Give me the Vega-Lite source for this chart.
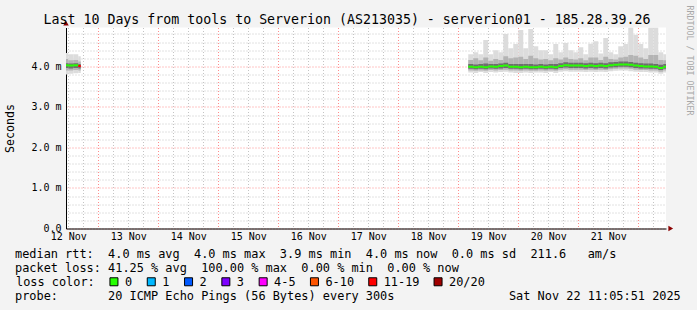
{
  "$schema": "https://vega.github.io/schema/vega-lite/v6.json",
  "autosize": "none",
  "width": 600,
  "height": 201,
  "padding": {"left": 66, "top": 27.5, "right": 31, "bottom": 81.5},
  "background": "#f3f3f3",
  "view": {"fill": "#ffffff", "stroke": null},
  "config": {"font": "DejaVu Sans Mono"},
  "datasets": {
    "smoke": [
      {"t": "2025-11-12T10:00Z", "t2": "2025-11-12T12:00Z", "mn": 3.80, "lo": 3.90, "q1": 3.96, "md": 4.03, "q3": 4.08, "hi": 4.18, "mx": 4.33, "loss": "0"},
      {"t": "2025-11-12T12:00Z", "t2": "2025-11-12T14:00Z", "mn": 3.82, "lo": 3.90, "q1": 3.95, "md": 4.02, "q3": 4.07, "hi": 4.15, "mx": 4.30, "loss": "0"},
      {"t": "2025-11-12T14:00Z", "t2": "2025-11-12T16:00Z", "mn": 3.83, "lo": 3.91, "q1": 3.96, "md": 4.03, "q3": 4.08, "hi": 4.16, "mx": 4.30, "loss": "0"},
      {"t": "2025-11-12T16:00Z", "t2": "2025-11-12T17:00Z", "mn": 3.84, "lo": 3.90, "q1": 3.95, "md": 4.01, "q3": 4.06, "hi": 4.12, "mx": 4.25, "loss": "11-19"},
      {"t": "2025-11-19T04:00Z", "t2": "2025-11-19T06:00Z", "mn": 3.85, "lo": 3.90, "q1": 3.94, "md": 3.99, "q3": 4.06, "hi": 4.16, "mx": 4.30, "loss": "0"},
      {"t": "2025-11-19T06:00Z", "t2": "2025-11-19T08:00Z", "mn": 3.84, "lo": 3.89, "q1": 3.93, "md": 3.98, "q3": 4.05, "hi": 4.20, "mx": 4.35, "loss": "0"},
      {"t": "2025-11-19T08:00Z", "t2": "2025-11-19T10:00Z", "mn": 3.86, "lo": 3.90, "q1": 3.94, "md": 3.99, "q3": 4.06, "hi": 4.15, "mx": 4.30, "loss": "0"},
      {"t": "2025-11-19T10:00Z", "t2": "2025-11-19T12:00Z", "mn": 3.84, "lo": 3.89, "q1": 3.93, "md": 3.98, "q3": 4.07, "hi": 4.22, "mx": 4.65, "loss": "0"},
      {"t": "2025-11-19T12:00Z", "t2": "2025-11-19T14:00Z", "mn": 3.86, "lo": 3.91, "q1": 3.95, "md": 4.00, "q3": 4.06, "hi": 4.14, "mx": 4.30, "loss": "0"},
      {"t": "2025-11-19T14:00Z", "t2": "2025-11-19T16:00Z", "mn": 3.85, "lo": 3.90, "q1": 3.94, "md": 3.99, "q3": 4.06, "hi": 4.18, "mx": 4.40, "loss": "0"},
      {"t": "2025-11-19T16:00Z", "t2": "2025-11-19T18:00Z", "mn": 3.86, "lo": 3.91, "q1": 3.95, "md": 4.01, "q3": 4.07, "hi": 4.16, "mx": 4.35, "loss": "0"},
      {"t": "2025-11-19T18:00Z", "t2": "2025-11-19T20:00Z", "mn": 3.87, "lo": 3.92, "q1": 3.96, "md": 4.02, "q3": 4.09, "hi": 4.25, "mx": 4.80, "loss": "0"},
      {"t": "2025-11-19T20:00Z", "t2": "2025-11-19T22:00Z", "mn": 3.85, "lo": 3.90, "q1": 3.94, "md": 3.99, "q3": 4.06, "hi": 4.20, "mx": 4.45, "loss": "0"},
      {"t": "2025-11-19T22:00Z", "t2": "2025-11-20T00:00Z", "mn": 3.84, "lo": 3.90, "q1": 3.94, "md": 3.99, "q3": 4.06, "hi": 4.22, "mx": 4.55, "loss": "0"},
      {"t": "2025-11-20T00:00Z", "t2": "2025-11-20T02:00Z", "mn": 3.84, "lo": 3.89, "q1": 3.93, "md": 3.98, "q3": 4.06, "hi": 4.24, "mx": 4.90, "loss": "0"},
      {"t": "2025-11-20T02:00Z", "t2": "2025-11-20T04:00Z", "mn": 3.85, "lo": 3.90, "q1": 3.94, "md": 3.99, "q3": 4.06, "hi": 4.18, "mx": 4.45, "loss": "0"},
      {"t": "2025-11-20T04:00Z", "t2": "2025-11-20T06:00Z", "mn": 3.84, "lo": 3.89, "q1": 3.93, "md": 3.98, "q3": 4.06, "hi": 4.26, "mx": 4.92, "loss": "0"},
      {"t": "2025-11-20T06:00Z", "t2": "2025-11-20T08:00Z", "mn": 3.85, "lo": 3.89, "q1": 3.93, "md": 3.98, "q3": 4.05, "hi": 4.20, "mx": 4.50, "loss": "0"},
      {"t": "2025-11-20T08:00Z", "t2": "2025-11-20T10:00Z", "mn": 3.85, "lo": 3.90, "q1": 3.94, "md": 3.99, "q3": 4.06, "hi": 4.17, "mx": 4.40, "loss": "0"},
      {"t": "2025-11-20T10:00Z", "t2": "2025-11-20T12:00Z", "mn": 3.84, "lo": 3.89, "q1": 3.93, "md": 3.98, "q3": 4.05, "hi": 4.18, "mx": 4.40, "loss": "0"},
      {"t": "2025-11-20T12:00Z", "t2": "2025-11-20T14:00Z", "mn": 3.86, "lo": 3.90, "q1": 3.94, "md": 3.99, "q3": 4.06, "hi": 4.15, "mx": 4.30, "loss": "0"},
      {"t": "2025-11-20T14:00Z", "t2": "2025-11-20T16:00Z", "mn": 3.84, "lo": 3.89, "q1": 3.93, "md": 3.98, "q3": 4.06, "hi": 4.20, "mx": 4.55, "loss": "0"},
      {"t": "2025-11-20T16:00Z", "t2": "2025-11-20T18:00Z", "mn": 3.87, "lo": 3.92, "q1": 3.96, "md": 4.01, "q3": 4.08, "hi": 4.17, "mx": 4.35, "loss": "0"},
      {"t": "2025-11-20T18:00Z", "t2": "2025-11-20T20:00Z", "mn": 3.88, "lo": 3.93, "q1": 3.97, "md": 4.03, "q3": 4.10, "hi": 4.22, "mx": 4.58, "loss": "0"},
      {"t": "2025-11-20T20:00Z", "t2": "2025-11-20T22:00Z", "mn": 3.87, "lo": 3.92, "q1": 3.96, "md": 4.02, "q3": 4.09, "hi": 4.18, "mx": 4.40, "loss": "0"},
      {"t": "2025-11-20T22:00Z", "t2": "2025-11-21T00:00Z", "mn": 3.87, "lo": 3.92, "q1": 3.96, "md": 4.02, "q3": 4.09, "hi": 4.17, "mx": 4.35, "loss": "0"},
      {"t": "2025-11-21T00:00Z", "t2": "2025-11-21T02:00Z", "mn": 3.87, "lo": 3.92, "q1": 3.96, "md": 4.02, "q3": 4.09, "hi": 4.20, "mx": 4.47, "loss": "0"},
      {"t": "2025-11-21T02:00Z", "t2": "2025-11-21T04:00Z", "mn": 3.86, "lo": 3.91, "q1": 3.95, "md": 4.01, "q3": 4.08, "hi": 4.15, "mx": 4.30, "loss": "0"},
      {"t": "2025-11-21T04:00Z", "t2": "2025-11-21T06:00Z", "mn": 3.87, "lo": 3.92, "q1": 3.96, "md": 4.02, "q3": 4.09, "hi": 4.22, "mx": 4.56, "loss": "0"},
      {"t": "2025-11-21T06:00Z", "t2": "2025-11-21T08:00Z", "mn": 3.86, "lo": 3.91, "q1": 3.95, "md": 4.01, "q3": 4.08, "hi": 4.22, "mx": 4.62, "loss": "0"},
      {"t": "2025-11-21T08:00Z", "t2": "2025-11-21T10:00Z", "mn": 3.87, "lo": 3.92, "q1": 3.96, "md": 4.02, "q3": 4.09, "hi": 4.16, "mx": 4.32, "loss": "0"},
      {"t": "2025-11-21T10:00Z", "t2": "2025-11-21T12:00Z", "mn": 3.86, "lo": 3.91, "q1": 3.95, "md": 4.01, "q3": 4.08, "hi": 4.24, "mx": 4.70, "loss": "0"},
      {"t": "2025-11-21T12:00Z", "t2": "2025-11-21T14:00Z", "mn": 3.88, "lo": 3.93, "q1": 3.97, "md": 4.03, "q3": 4.10, "hi": 4.18, "mx": 4.35, "loss": "0"},
      {"t": "2025-11-21T14:00Z", "t2": "2025-11-21T16:00Z", "mn": 3.89, "lo": 3.94, "q1": 3.98, "md": 4.04, "q3": 4.11, "hi": 4.17, "mx": 4.30, "loss": "0"},
      {"t": "2025-11-21T16:00Z", "t2": "2025-11-21T18:00Z", "mn": 3.90, "lo": 3.95, "q1": 3.99, "md": 4.05, "q3": 4.12, "hi": 4.22, "mx": 4.50, "loss": "0"},
      {"t": "2025-11-21T18:00Z", "t2": "2025-11-21T20:00Z", "mn": 3.90, "lo": 3.95, "q1": 3.99, "md": 4.05, "q3": 4.12, "hi": 4.24, "mx": 4.55, "loss": "0"},
      {"t": "2025-11-21T20:00Z", "t2": "2025-11-21T22:00Z", "mn": 3.88, "lo": 3.94, "q1": 3.98, "md": 4.04, "q3": 4.11, "hi": 4.28, "mx": 4.96, "loss": "0"},
      {"t": "2025-11-21T22:00Z", "t2": "2025-11-22T00:00Z", "mn": 3.87, "lo": 3.92, "q1": 3.96, "md": 4.02, "q3": 4.09, "hi": 4.26, "mx": 4.78, "loss": "0"},
      {"t": "2025-11-22T00:00Z", "t2": "2025-11-22T02:00Z", "mn": 3.86, "lo": 3.91, "q1": 3.95, "md": 4.01, "q3": 4.08, "hi": 4.22, "mx": 4.55, "loss": "0"},
      {"t": "2025-11-22T02:00Z", "t2": "2025-11-22T04:00Z", "mn": 3.86, "lo": 3.91, "q1": 3.95, "md": 4.00, "q3": 4.07, "hi": 4.18, "mx": 4.45, "loss": "0"},
      {"t": "2025-11-22T04:00Z", "t2": "2025-11-22T06:00Z", "mn": 3.85, "lo": 3.90, "q1": 3.94, "md": 4.00, "q3": 4.07, "hi": 4.28, "mx": 4.96, "loss": "0"},
      {"t": "2025-11-22T06:00Z", "t2": "2025-11-22T08:00Z", "mn": 3.85, "lo": 3.90, "q1": 3.94, "md": 3.99, "q3": 4.06, "hi": 4.28, "mx": 4.96, "loss": "0"},
      {"t": "2025-11-22T08:00Z", "t2": "2025-11-22T10:00Z", "mn": 3.82, "lo": 3.87, "q1": 3.91, "md": 3.96, "q3": 4.04, "hi": 4.16, "mx": 4.35, "loss": "0"},
      {"t": "2025-11-22T10:00Z", "t2": "2025-11-22T12:00Z", "mn": 3.85, "lo": 3.90, "q1": 3.94, "md": 3.99, "q3": 4.06, "hi": 4.15, "mx": 4.30, "loss": "0"}
    ],
    "arrows": [
      {"t": "2025-11-22T13:00Z", "v": 0, "s": "triangle-right"},
      {"t": "2025-11-12T11:05:51Z", "v": 5.07, "s": "triangle-up"}
    ],
    "losscolors": [
      {"loss": "0"}, {"loss": "1"}, {"loss": "2"}, {"loss": "3"},
      {"loss": "4-5"}, {"loss": "6-10"}, {"loss": "11-19"}, {"loss": "20/20"}
    ]
  },
  "title": {
    "text": "Last 10 Days from tools to Serverion (AS213035) - serverion01 - 185.28.39.26",
    "anchor": "start",
    "frame": "group",
    "dx": -22.5,
    "offset": -22.5,
    "font": "DejaVu Sans Mono",
    "fontSize": 13.27,
    "fontWeight": "normal",
    "color": "#000000"
  },
  "encoding": {
    "x": {
      "field": "t",
      "type": "temporal",
      "scale": {"domain": [1762945551000, 1763809551000]},
      "axis": {
        "title": [
          "median rtt:\u00a0\u00a04.0 ms avg\u00a0\u00a04.0 ms max\u00a0\u00a03.9 ms min\u00a0\u00a04.0 ms now\u00a0\u00a00.0 ms sd\u00a0\u00a0211.6\u00a0\u00a0\u00a0am/s",
          "packet loss:\u00a041.25 % avg\u00a0\u00a0100.00 % max\u00a0\u00a00.00 % min\u00a0\u00a00.00 % now",
          "\u200b",
          "probe:\u00a0\u00a0\u00a0\u00a0\u00a0\u00a0\u00a020 ICMP Echo Pings (56 Bytes) every 300s\u00a0\u00a0\u00a0\u00a0\u00a0\u00a0\u00a0\u00a0\u00a0\u00a0\u00a0\u00a0\u00a0\u00a0\u00a0\u00a0Sat Nov 22 11:05:51 2025"
        ],
        "titleFont": "DejaVu Sans Mono",
        "titleFontSize": 11.9,
        "titleFontWeight": "normal",
        "titleColor": "#000000",
        "titleAlign": "left",
        "titleBaseline": "alphabetic",
        "titleAngle": 0,
        "titleX": -51.5,
        "titleY": 29.2,
        "titleLineHeight": 14,
        "titleLimit": 2000,
        "values": [1762948800000, 1762970400000, 1762992000000, 1763013600000, 1763035200000, 1763056800000, 1763078400000, 1763100000000, 1763121600000, 1763143200000, 1763164800000, 1763186400000, 1763208000000, 1763229600000, 1763251200000, 1763272800000, 1763294400000, 1763316000000, 1763337600000, 1763359200000, 1763380800000, 1763402400000, 1763424000000, 1763445600000, 1763467200000, 1763488800000, 1763510400000, 1763532000000, 1763553600000, 1763575200000, 1763596800000, 1763618400000, 1763640000000, 1763661600000, 1763683200000, 1763704800000, 1763726400000, 1763748000000, 1763769600000, 1763791200000],
        "labelExpr": "utchours(datum.value) == 12 ? utcFormat(datum.value, '%d %b') : ''",
        "labelFont": "DejaVu Sans Mono",
        "labelFontSize": 10,
        "labelColor": "#000000",
        "labelPadding": 3,
        "labelFlush": false,
        "labelOverlap": false,
        "ticks": false,
        "domainColor": "#000000",
        "grid": true,
        "gridColor": {"condition": {"test": "utchours(datum.value) == 0", "value": "#ff8c8c"}, "value": "#c4c4c4"},
        "gridDash": [1, 2],
        "gridWidth": 1,
        "gridOpacity": 1
      }
    }
  },
  "resolve": {"axis": {"y": "independent"}},
  "layer": [
    {
      "data": {"name": "smoke", "format": {"parse": {"t": "date", "t2": "date"}}},
      "mark": {"type": "rect", "color": "#dcdcdc", "clip": true},
      "encoding": {
        "x2": {"field": "t2"},
        "y": {
          "field": "mn",
          "type": "quantitative",
          "scale": {"domain": [0, 4.96], "nice": false, "zero": true},
          "axis": {
            "title": "Seconds",
            "titleFont": "DejaVu Sans Mono",
            "titleFontSize": 11.6,
            "titleFontWeight": "normal",
            "titleColor": "#000000",
            "titleAngle": -90,
            "titleX": -55.5,
            "titleY": 100.5,
            "titleAlign": "center",
            "titleBaseline": "middle",
            "values": [0, 0.2, 0.4, 0.6, 0.8, 1, 1.2, 1.4, 1.6, 1.8, 2, 2.2, 2.4, 2.6, 2.8, 3, 3.2, 3.4, 3.6, 3.8, 4, 4.2, 4.4, 4.6, 4.8],
            "labelExpr": "datum.value % 1 == 0 ? (datum.value == 0 ? '0.0' : format(datum.value, '.1f') + ' m') : ''",
            "labelFont": "DejaVu Sans Mono",
            "labelFontSize": 10,
            "labelColor": "#000000",
            "labelPadding": 5,
            "labelFlush": false,
            "labelOverlap": false,
            "ticks": false,
            "domainColor": "#000000",
            "grid": true,
            "gridColor": {"condition": {"test": "datum.value % 1 == 0", "value": "#ff8c8c"}, "value": "#c4c4c4"},
            "gridDash": [1, 2],
            "gridWidth": 1,
            "gridOpacity": 1
          }
        },
        "y2": {"field": "mx"}
      }
    },
    {
      "data": {"name": "smoke", "format": {"parse": {"t": "date", "t2": "date"}}},
      "mark": {"type": "rect", "color": "#b4b4b4", "clip": true},
      "encoding": {
        "x2": {"field": "t2"},
        "y": {"field": "lo", "type": "quantitative", "axis": null},
        "y2": {"field": "hi"}
      }
    },
    {
      "data": {"name": "smoke", "format": {"parse": {"t": "date", "t2": "date"}}},
      "mark": {"type": "rect", "color": "#6e6e6e", "clip": true},
      "encoding": {
        "x2": {"field": "t2"},
        "y": {"field": "q1", "type": "quantitative", "axis": null},
        "y2": {"field": "q3"}
      }
    },
    {
      "data": {"name": "smoke", "format": {"parse": {"t": "date", "t2": "date"}}},
      "mark": {"type": "rule", "strokeWidth": 2, "clip": true},
      "encoding": {
        "x2": {"field": "t2"},
        "y": {
          "field": "md",
          "type": "quantitative",
          "axis": {
            "orient": "right",
            "title": "RRDTOOL / TOBI OETIKER",
            "labels": false,
            "ticks": false,
            "domain": false,
            "grid": false,
            "titleAngle": 90,
            "titleAlign": "left",
            "titleBaseline": "middle",
            "titleX": 22,
            "titleY": -22.5,
            "titleFont": "DejaVu Sans Mono",
            "titleFontSize": 8.3,
            "titleFontWeight": "normal",
            "titleColor": "#a8a8a8"
          }
        },
        "color": {
          "field": "loss",
          "type": "nominal",
          "scale": {"domain": ["0", "11-19"], "range": ["#26ff00", "#ff0000"]},
          "legend": null
        }
      }
    },
    {
      "data": {"name": "losscolors"},
      "mark": {"type": "square", "filled": true, "opacity": 0},
      "encoding": {
        "x": {"value": 0},
        "y": {"value": 0},
        "fill": {
          "field": "loss",
          "type": "nominal",
          "scale": {
            "domain": ["0", "1", "2", "3", "4-5", "6-10", "11-19", "20/20"],
            "range": ["#26ff00", "#00b8ff", "#0059ff", "#7e00ff", "#ff00ff", "#ff5500", "#ff0000", "#a00000"]
          },
          "legend": {
            "orient": "none",
            "legendX": -50,
            "legendY": 248.3,
            "direction": "horizontal",
            "columns": 8,
            "title": "loss color:",
            "titleOrient": "left",
            "titleFont": "DejaVu Sans Mono",
            "titleFontSize": 11.9,
            "titleFontWeight": "normal",
            "titleColor": "#000000",
            "titlePadding": 13,
            "titleBaseline": "middle",
            "symbolType": "square",
            "symbolSize": 64,
            "symbolStrokeColor": "#000000",
            "symbolStrokeWidth": 1,
            "symbolOpacity": 1,
            "labelFont": "DejaVu Sans Mono",
            "labelFontSize": 11.9,
            "labelColor": "#000000",
            "labelOffset": 5,
            "columnPadding": 11.3,
            "padding": 0,
            "offset": 0
          }
        }
      }
    },
    {
      "data": {"name": "arrows", "format": {"parse": {"t": "date"}}},
      "mark": {"type": "point", "filled": true, "size": 30, "color": "#8b0000", "opacity": 1},
      "encoding": {
        "y": {"field": "v", "type": "quantitative", "axis": null},
        "shape": {"field": "s", "type": "nominal", "scale": null}
      }
    }
  ]
}
